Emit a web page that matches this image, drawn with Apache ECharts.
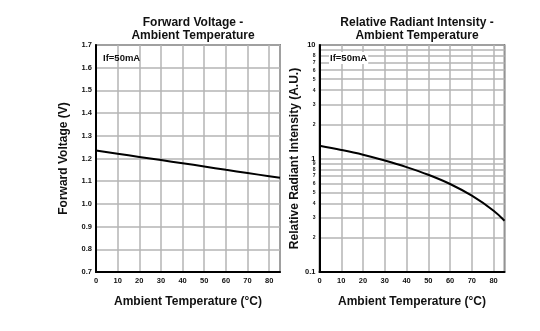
<!DOCTYPE html>
<html><head><meta charset="utf-8">
<script src="https://cdn.jsdelivr.net/npm/echarts@6/dist/echarts.min.js"></script>
<style>html,body{margin:0;padding:0;background:#fff}#c{width:540px;height:331px}</style>
</head><body><div id="c"></div>
<script>
var temps = [0, 10, 20, 30, 40, 50, 60, 70, 80, 85];
var forwardVoltage = [1.235, 1.221, 1.207, 1.193, 1.179, 1.165, 1.150, 1.136, 1.122, 1.115];
var radiantTemps = [0, 10, 20, 30, 40, 50, 60, 70, 80, 85];
var radiantIntensity = [1.294, 1.19, 1.08, 0.96, 0.84, 0.719, 0.596, 0.47, 0.347, 0.283];
var logTicks = [0.1,0.2,0.3,0.4,0.5,0.6,0.7,0.8,0.9,1,2,3,4,5,6,7,8,9,10];
var logTickLabels = ['0.1','2','3','4','5','6','7','8','9','1','2','3','4','5','6','7','8','9','10'];

var FONT = '"Liberation Sans", Arial, sans-serif';
var chart = echarts.init(document.getElementById('c'), null, {renderer:'canvas'});
var gridLine = {show:true, lineStyle:{color:'#b4b4b4', width:1.5}};
var axisLine = {show:true, onZero:false, lineStyle:{color:'#000', width:2}};
var tickLbl = {fontFamily:FONT, fontWeight:'bold', fontSize:7.5, color:'#111'};
var nameStyle = {fontFamily:FONT, fontWeight:'bold', fontSize:12, color:'#111'};
var titleStyle = {fontFamily:FONT, fontWeight:'bold', fontSize:12, lineHeight:13, color:'#111'};
var noteStyle = {fontFamily:FONT, fontWeight:'bold', fontSize:9.5, color:'#111'};

function xAxis(idx){
  return {type:'value', gridIndex:idx, min:0, max:85, interval:10,
    axisLine:axisLine, axisTick:{show:false}, splitLine:gridLine,
    axisLabel:Object.assign({margin:5, showMaxLabel:false}, tickLbl),
    name:'Ambient Temperature (°C)', nameLocation:'middle', nameGap:24, nameTextStyle:nameStyle};
}
var option = {
  animation:false,
  title:[
    {text:'Forward Voltage -\nAmbient Temperature', left:188, top:11, textAlign:'center', textStyle:titleStyle},
    {text:'Relative Radiant Intensity -\nAmbient Temperature', left:412, top:11, textAlign:'center', textStyle:titleStyle},
    {text:'If=50mA', left:102, top:52, padding:[1,1], textStyle:noteStyle},
    {text:'If=50mA', left:329, top:52, padding:[1,1], backgroundColor:'#fff', textStyle:noteStyle}
  ],
  grid:[
    {left:96, top:45, width:184, height:227, show:true, borderColor:'#333', borderWidth:1.5},
    {left:319.5, top:45, width:185, height:227, show:true, borderColor:'#333', borderWidth:1.5}
  ],
  xAxis:[xAxis(0), xAxis(1)],
  yAxis:[
    {type:'value', gridIndex:0, min:0.7, max:1.7, interval:0.1,
     axisLine:axisLine, axisTick:{show:false}, splitLine:gridLine,
     axisLabel:Object.assign({margin:4, formatter:function(v){return v.toFixed(1);}}, tickLbl),
     name:'Forward Voltage (V)', nameLocation:'middle', nameGap:26, nameTextStyle:nameStyle},
    {type:'log', logBase:10, gridIndex:1, min:0.1, max:10,
     axisLine:axisLine,
     axisTick:{show:false, customValues:logTicks},
     splitLine:gridLine,
     axisLabel:{customValues:logTicks, margin:4, color:'#111', showMaxLabel:true, showMinLabel:true, hideOverlap:false,
       formatter:function(v){
         var i = -1;
         for (var k = 0; k < logTicks.length; k++) { if (Math.abs(logTicks[k] - v) < 1e-9 * Math.max(1, v)) { i = k; } }
         var s = i >= 0 ? logTickLabels[i] : '';
         var major = (i === 0 || i === 9 || i === logTicks.length - 1);
         return major ? '{a|' + s + '}' : '{b|' + s + '}';
       },
       rich:{a:{fontFamily:FONT, fontWeight:'bold', fontSize:7.5, color:'#111'},
             b:{fontFamily:FONT, fontWeight:'bold', fontSize:5, color:'#111'}}},
     name:'Relative Radiant Intensity (A.U.)', nameLocation:'middle', nameGap:19, nameTextStyle:nameStyle}
  ],
  series:[
    {type:'line', xAxisIndex:0, yAxisIndex:0, data:temps.map(function(t,i){return [t, forwardVoltage[i]];}),
     showSymbol:false, smooth:true, lineStyle:{color:'#000', width:2}},
    {type:'line', xAxisIndex:1, yAxisIndex:1, data:radiantTemps.map(function(t,i){return [t, radiantIntensity[i]];}),
     showSymbol:false, smooth:0.4, lineStyle:{color:'#000', width:2}}
  ]
};
chart.setOption(option);
</script></body></html>
